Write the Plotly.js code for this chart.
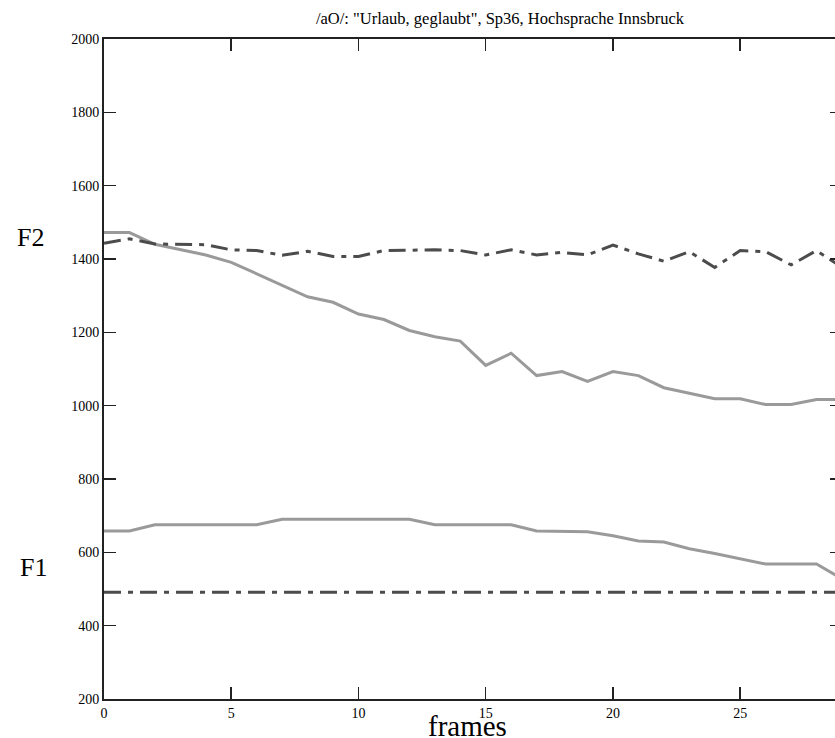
<!DOCTYPE html>
<html><head><meta charset="utf-8">
<script src="https://cdn.plot.ly/plotly-3.0.1.min.js"></script>
<style>html,body{margin:0;padding:0;overflow:hidden;background:#fff}</style>
</head><body><div id="chart"></div>
<script>
const frames = [0,1,2,3,4,5,6,7,8,9,10,11,12,13,14,15,16,17,18,19,20,21,22,23,24,25,26,27,28,29];
const f2Solid = [1472,1472,1440,1425,1411,1391,1359,1327,1297,1282,1250,1235,1205,1188,1176,1110,1143,1082,1093,1066,1093,1082,1049,1034,1019,1019,1003,1003,1017,1017];
const f2Dash = [1443,1455,1441,1441,1439,1425,1423,1410,1421,1407,1407,1423,1425,1425,1423,1411,1425,1411,1418,1411,1438,1414,1394,1420,1377,1423,1420,1384,1423,1377];
const f1Solid = [658,658,675,675,675,675,675,690,690,690,690,690,690,675,675,675,675,658,658,656,645,631,628,610,597,583,568,568,568,528];
const f1Dash = [491,491,491,491,491,491,491,491,491,491,491,491,491,491,491,491,491,491,491,491,491,491,491,491,491,491,491,491,491,491];
const xTicks = [0,5,10,15,20,25];
const yTicks = [200,400,600,800,1000,1200,1400,1600,1800,2000];

const grey = '#9a9a9a', dark = '#4c4c4c';
const dashdot = '17px,7px,5px,7px';
const traces = [
  {x: frames, y: f2Solid, mode:'lines', line:{color:grey, width:3}},
  {x: frames, y: f2Dash, mode:'lines', line:{color:dark, width:3, dash:dashdot}},
  {x: frames, y: f1Solid, mode:'lines', line:{color:grey, width:3}},
  {x: frames, y: f1Dash, mode:'lines', line:{color:dark, width:3, dash:dashdot}}
];
const W = 845, H = 738;
const serif = 'Liberation Serif, Times New Roman, serif';
const layout = {
  width: W, height: H,
  margin: {l:104, r:3, t:39, b:39},
  paper_bgcolor:'#fff', plot_bgcolor:'#fff',
  showlegend:false,
  title: {text:'/aO/: "Urlaub, geglaubt", Sp36, Hochsprache Innsbruck', font:{family:serif, size:16.5, color:'#000'},
          xref:'container', yref:'container', x:500/W, xanchor:'center', y:1-18/H, yanchor:'middle'},
  xaxis: {range:[0,29], tickvals:xTicks, ticktext:xTicks.map(String), ticks:'inside', ticklen:12, tickwidth:1.5, tickcolor:'#222',
          showline:true, linecolor:'#222', linewidth:2, mirror:'ticks', showgrid:false, zeroline:false,
          tickfont:{family:serif, size:14, color:'#000'}, fixedrange:true},
  yaxis: {range:[200,2000], tickvals:yTicks, ticktext:yTicks.map(String), ticks:'inside', ticklen:12, tickwidth:1.5, tickcolor:'#222',
          showline:true, linecolor:'#222', linewidth:2, mirror:'ticks', showgrid:false, zeroline:false,
          tickfont:{family:serif, size:14, color:'#000'}, fixedrange:true},
  annotations: [
    {text:'F2', xref:'paper', yref:'y', x:-74/738, y:1458, xanchor:'center', yanchor:'middle', showarrow:false, font:{family:serif, size:26, color:'#000'}},
    {text:'F1', xref:'paper', yref:'y', x:-71/738, y:558, xanchor:'center', yanchor:'middle', showarrow:false, font:{family:serif, size:26, color:'#000'}},
    {text:'frames', xref:'paper', yref:'paper', x:(467-104)/738, y:-27/660, xanchor:'center', yanchor:'middle', showarrow:false, font:{family:serif, size:29, color:'#000'}}
  ]
};
Plotly.newPlot('chart', traces, layout, {staticPlot:true, displayModeBar:false});
</script>
</body></html>
